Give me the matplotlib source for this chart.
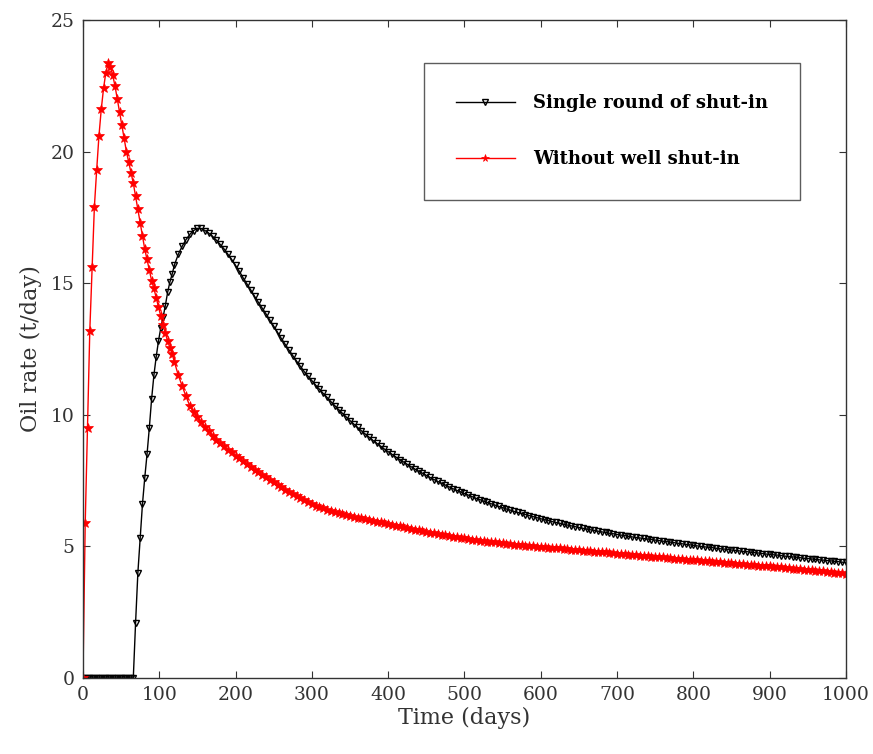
import numpy as np
import matplotlib.pyplot as plt

plt.rcParams['font.family'] = ['DejaVu Serif']

# sample times (days): every 3 days early on, every 5 days afterwards
days_early = list(range(0, 121, 3))
days_late = list(range(125, 1001, 5))
days = days_early + days_late

# Without well shut-in (red)
red_early = [0.0, 5.9, 9.5, 13.2, 15.6, 17.9, 19.3, 20.6, 21.6, 22.4,
             23.0, 23.35, 23.2, 22.9, 22.5, 22.0, 21.5, 21.0, 20.5, 20.0,
             19.6, 19.2, 18.8, 18.3, 17.8, 17.3, 16.8, 16.3, 15.9, 15.5,
             15.1, 14.8, 14.45, 14.1, 13.75, 13.4, 13.1, 12.8, 12.55, 12.3,
             12.0]
red_late = [11.5, 11.1, 10.7, 10.35, 10.1, 9.9, 9.72, 9.55, 9.38, 9.2,
            9.05, 8.92, 8.8, 8.68, 8.57, 8.45, 8.34, 8.23, 8.12, 8.02,
            7.92, 7.82, 7.72, 7.62, 7.52, 7.43, 7.34, 7.25, 7.16, 7.07,
            6.98, 6.9, 6.82, 6.75, 6.68, 6.61, 6.55, 6.49, 6.44, 6.39,
            6.34, 6.3, 6.26, 6.22, 6.18, 6.15, 6.12, 6.09, 6.06, 6.03,
            6.0, 5.97, 5.94, 5.91, 5.88, 5.85, 5.82, 5.79, 5.76, 5.73,
            5.7, 5.67, 5.64, 5.61, 5.58, 5.55, 5.52, 5.5, 5.47, 5.45,
            5.42, 5.4, 5.37, 5.35, 5.32, 5.3, 5.28, 5.26, 5.24, 5.22,
            5.2, 5.18, 5.16, 5.15, 5.13, 5.12, 5.1, 5.09, 5.07, 5.06,
            5.05, 5.03, 5.02, 5.0, 4.99, 4.98, 4.97, 4.95, 4.94, 4.93,
            4.92, 4.9, 4.89, 4.88, 4.86, 4.85, 4.84, 4.83, 4.82, 4.8,
            4.79, 4.78, 4.77, 4.75, 4.74, 4.73, 4.72, 4.7, 4.69, 4.68,
            4.66, 4.65, 4.64, 4.63, 4.61, 4.6, 4.59, 4.58, 4.56, 4.55,
            4.54, 4.53, 4.51, 4.5, 4.49, 4.48, 4.47, 4.45, 4.44, 4.43,
            4.42, 4.4, 4.39, 4.38, 4.37, 4.36, 4.35, 4.33, 4.32, 4.31,
            4.3, 4.28, 4.27, 4.26, 4.25, 4.24, 4.22, 4.21, 4.2, 4.18,
            4.17, 4.15, 4.14, 4.13, 4.11, 4.1, 4.09, 4.07, 4.06, 4.05,
            4.03, 4.02, 4.0, 3.99, 3.98, 3.97]

# Single round of shut-in (black)
black_early = [0.0] * 23 + [2.1, 4.0, 5.3, 6.6, 7.6, 8.5, 9.5, 10.6, 11.5,
                            12.2, 12.8, 13.3, 13.7, 14.15, 14.65, 15.05,
                            15.35, 15.7]
black_late = [16.1, 16.4, 16.65, 16.85, 17.0, 17.08, 17.08, 17.0, 16.9, 16.78,
              16.63, 16.47, 16.3, 16.1, 15.9, 15.68, 15.45, 15.2, 14.97, 14.74,
              14.5, 14.27, 14.05, 13.83, 13.6, 13.37, 13.14, 12.9, 12.68, 12.46,
              12.25, 12.04, 11.84, 11.64, 11.47, 11.3, 11.13, 10.97, 10.81, 10.66,
              10.5, 10.35, 10.2, 10.06, 9.92, 9.78, 9.65, 9.52, 9.39, 9.27,
              9.15, 9.03, 8.92, 8.81, 8.7, 8.6, 8.5, 8.4, 8.3, 8.21,
              8.12, 8.03, 7.94, 7.86, 7.78, 7.7, 7.62, 7.54, 7.47, 7.4,
              7.33, 7.26, 7.19, 7.13, 7.07, 7.01, 6.95, 6.89, 6.83, 6.78,
              6.72, 6.67, 6.62, 6.57, 6.52, 6.47, 6.42, 6.38, 6.33, 6.29,
              6.25, 6.21, 6.17, 6.13, 6.09, 6.05, 6.01, 5.98, 5.94, 5.91,
              5.88, 5.84, 5.81, 5.78, 5.75, 5.72, 5.69, 5.66, 5.63, 5.61,
              5.58, 5.55, 5.53, 5.5, 5.48, 5.45, 5.43, 5.41, 5.38, 5.36,
              5.34, 5.32, 5.3, 5.28, 5.26, 5.24, 5.22, 5.2, 5.18, 5.16,
              5.14, 5.12, 5.1, 5.08, 5.06, 5.04, 5.02, 5.0, 4.98, 4.97,
              4.95, 4.93, 4.91, 4.9, 4.88, 4.86, 4.85, 4.83, 4.81, 4.8,
              4.78, 4.76, 4.75, 4.73, 4.71, 4.7, 4.68, 4.67, 4.65, 4.63,
              4.62, 4.6, 4.59, 4.57, 4.55, 4.54, 4.52, 4.51, 4.49, 4.48,
              4.46, 4.45, 4.43, 4.42, 4.4, 4.39]

red = red_early + red_late
black = black_early + black_late

x_ticks = list(range(0, 1001, 100))
y_ticks = [0, 5, 10, 15, 20, 25]

fig = plt.figure(figsize=(8.73, 7.54), dpi=100)
ax = fig.add_axes([0.095, 0.1008, 0.874, 0.8727])

ax.plot(days, black, color='black', lw=1.0, marker='v', ms=5, mfc='none',
        mew=1.0, label='Single round of shut-in')
ax.plot(days, red, color='red', lw=1.0, marker='*', ms=7, mew=0.5,
        label='Without well shut-in')

ax.set_xlim(0, 1000)
ax.set_ylim(0, 25)
ax.set_xticks(x_ticks)
ax.set_yticks(y_ticks)
ax.tick_params(direction='in', top=True, right=True, length=5, labelsize=13.5,
               colors='#333333', labelcolor='#333333', pad=6)
for s in ax.spines.values():
    s.set_color('#333333')
    s.set_linewidth(1.0)

ax.set_xlabel('Time (days)', fontsize=16, color='#333333', labelpad=2)
ax.set_ylabel('Oil rate (t/day)', fontsize=16, color='#333333', labelpad=6)

leg = ax.legend(loc='upper left', bbox_to_anchor=(0.447, 0.935),
                prop={'weight': 'bold', 'size': 13}, frameon=True,
                fancybox=False, edgecolor='#333333', borderpad=1.75,
                labelspacing=2.1, handlelength=3.3, handletextpad=1.0,
                borderaxespad=0, markerscale=0.8)
leg.get_frame().set_linewidth(1.0)

fig.savefig('out.png', dpi=100)
